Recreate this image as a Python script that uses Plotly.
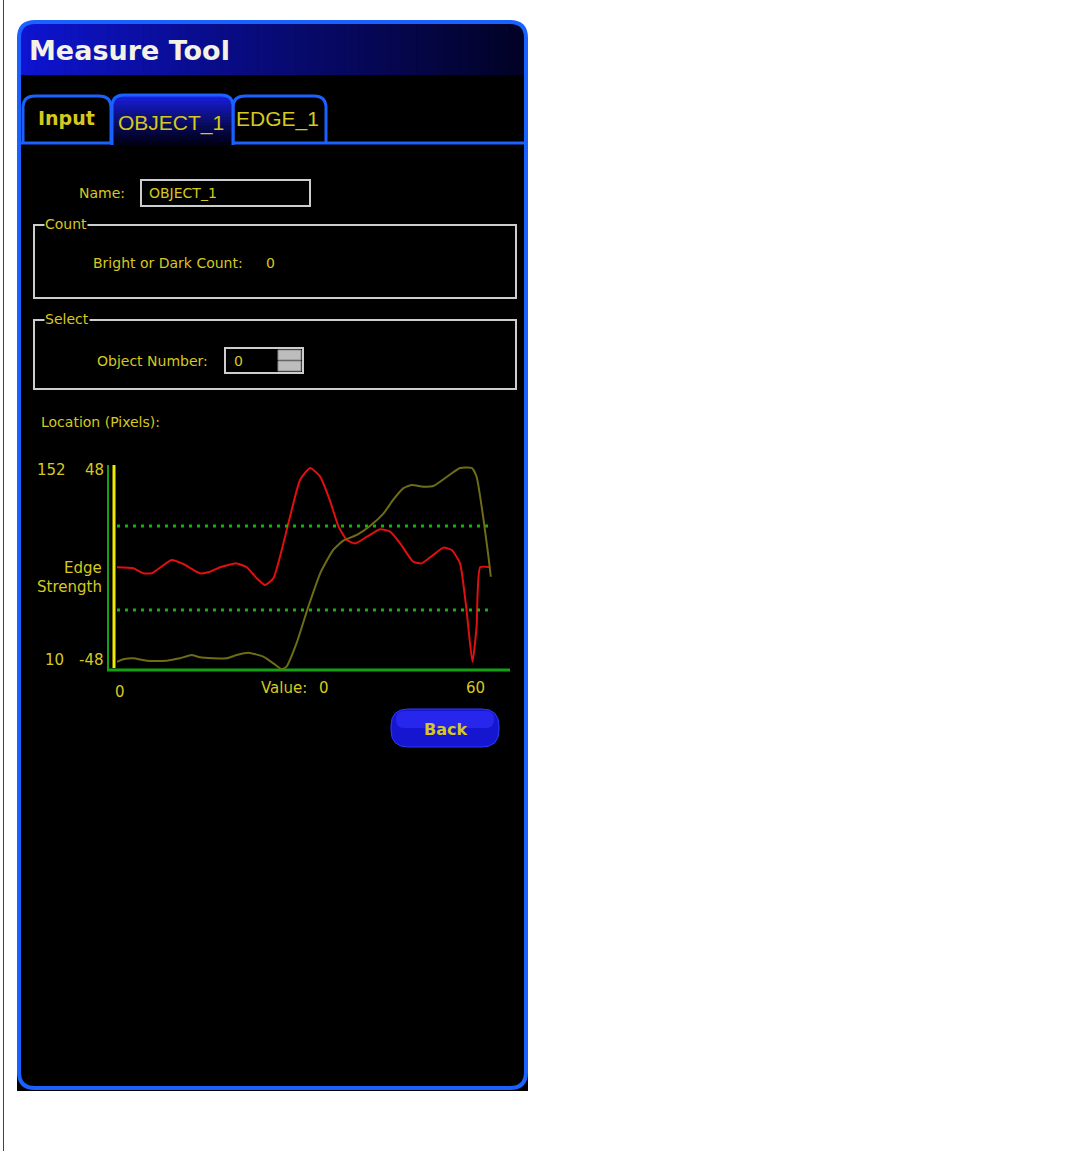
import plotly.graph_objects as go

# ---------------- data ----------------
positions = [0, 2.75, 4.44, 5.86, 9.23, 11.19, 14.0, 15.7, 17.4, 20.2, 21.9, 23.6, 25.0, 26.4,
             27.8, 29.2, 30.9, 32.6, 34.3, 35.9, 37.4, 38.8, 40.2, 42.2, 44.4, 46.1, 47.8, 50.0,
             51.4, 53.4, 55.1, 56.5, 57.9, 59.0, 60.0, 60.7, 61.3, 63.0]
edge_strength = [-1.1, -1.6, -4.1, -4.1, 2.5, 0.5, -4.1, -3.3, -1.1, 0.8, -1.1, -6.6, -9.9, -6.6,
                 7.4, 23.9, 42.1, 48.0, 43.7, 32.2, 19.0, 12.4, 10.7, 14.0, 17.7, 16.5, 10.7, 1.6,
                 0.8, 5.0, 8.6, 7.4, 0.8, -22.3, -48.0, -30.5, -1.1, -1.1]

profile_x = [0, 1.06, 2.75, 5.0, 8.4, 10.6, 12.6, 14.0, 18.5, 20.2, 22.2, 24.7, 26.4, 27.8, 28.6,
             30.3, 32.3, 34.3, 36.5, 38.2, 40.5, 42.7, 45.0, 46.6, 48.3, 49.7, 51.7, 53.4, 55.7,
             57.9, 59.9, 60.7, 61.8, 62.7, 63.1]
profile_y = [10.2, 12.0, 12.7, 11.0, 11.0, 12.7, 15.1, 13.4, 12.7, 15.1, 16.8, 13.9, 9.0, 4.7, 6.6,
             23.7, 50.5, 74.9, 92.0, 98.8, 103.0, 109.5, 118.8, 128.6, 137.1, 139.6, 138.3, 138.8,
             145.6, 152.0, 152.0, 145.6, 116.4, 87.1, 72.4]

threshold_x = [0, 63]
upper_threshold = 19.3
lower_threshold = -22.3

edge_ticks = ["48", "-48"]
profile_ticks = ["152", "10"]
x_ticks = ["0", "60"]
value_text = "0"

# ---------------- geometry helpers ----------------
W, H = 1083, 1151
YEL = "#d6c81e"
BLUE = "#1a62ff"
GRAY = "#cdcdcd"


def fx(x):
    return x / W


def fy(y):
    return 1 - y / H


def P(x, y):
    return f"{x / W:.5f},{1 - y / H:.5f}"


def rounded(x0, y0, x1, y1, r):
    return (f"M {P(x0 + r, y0)} L {P(x1 - r, y0)} Q {P(x1, y0)} {P(x1, y0 + r)} "
            f"L {P(x1, y1 - r)} Q {P(x1, y1)} {P(x1 - r, y1)} L {P(x0 + r, y1)} "
            f"Q {P(x0, y1)} {P(x0, y1 - r)} L {P(x0, y0 + r)} Q {P(x0, y0)} {P(x0 + r, y0)} Z")


def tab_path(x0, y0, x1, y1, r):
    return (f"M {P(x0, y1)} L {P(x0, y0 + r)} Q {P(x0, y0)} {P(x0 + r, y0)} "
            f"L {P(x1 - r, y0)} Q {P(x1, y0)} {P(x1, y0 + r)} L {P(x1, y1)}")


shapes = []


def rect(x0, y0, x1, y1, fill=None, line=None, lw=0):
    shapes.append(dict(type="rect", xref="paper", yref="paper", layer="below",
                       x0=fx(x0), x1=fx(x1), y0=fy(y1), y1=fy(y0),
                       fillcolor=fill if fill else "rgba(0,0,0,0)",
                       line=dict(color=line if line else "rgba(0,0,0,0)", width=lw)))


def path(p, fill=None, line=None, lw=0):
    shapes.append(dict(type="path", xref="paper", yref="paper", layer="below", path=p,
                       fillcolor=fill if fill else "rgba(0,0,0,0)",
                       line=dict(color=line if line else "rgba(0,0,0,0)", width=lw)))


def seg(x0, y0, x1, y1, color, lw, dash=None):
    d = dict(color=color, width=lw)
    if dash:
        d["dash"] = dash
    shapes.append(dict(type="line", xref="paper", yref="paper", layer="below",
                       x0=fx(x0), x1=fx(x1), y0=fy(y0), y1=fy(y1), line=d))


def corner_mask(cx, cy, dx, dy, r, color):
    path(f"M {P(cx, cy)} L {P(cx + dx * r, cy)} Q {P(cx, cy)} {P(cx, cy + dy * r)} Z", fill=color)


def lerp(c0, c1, t):
    return "rgb(%d,%d,%d)" % tuple(round(a + (b - a) * t) for a, b in zip(c0, c1))


# thin page line on the left
seg(3.5, 0, 3.5, H, "#444444", 1)

# panel
PX0, PY0, PX1, PY1, PR = 19, 22, 526, 1088, 16
rect(17, 1068, 528, 1091, fill="#000000")
path(rounded(PX0, PY0, PX1, PY1, PR), fill="#000000")

# title gradient
N = 70
tx0, tx1, ty0, ty1 = 21, 524, 24, 75
for i in range(N):
    t = i / (N - 1)
    c = lerp((14, 20, 210), (2, 2, 38), t ** 0.9)
    a = tx0 + (tx1 - tx0) * i / N
    b = tx0 + (tx1 - tx0) * (i + 1) / N + 0.6
    rect(a, ty0, b, ty1, fill=c)
corner_mask(PX0, PY0, 1, 1, PR, "#ffffff")
corner_mask(PX1, PY0, -1, 1, PR, "#ffffff")
path(rounded(PX0, PY0, PX1, PY1, PR), line=BLUE, lw=4)

# tabs
path(tab_path(23, 96, 111, 143, 12), fill="#000000", line=BLUE, lw=3)
path(tab_path(233, 96, 326, 143, 12), fill="#000000", line=BLUE, lw=3)
NT = 16
for i in range(NT):
    t = i / (NT - 1)
    c = lerp((26, 32, 232), (0, 0, 24), t ** 0.8)
    a = 95 + (145 - 95) * i / NT
    b = 95 + (145 - 95) * (i + 1) / NT + 0.6
    rect(113, a, 232, b, fill=c)
corner_mask(112, 95, 1, 1, 12, "#000000")
corner_mask(233, 95, -1, 1, 12, "#000000")
path(tab_path(112, 95, 233, 145, 12), line=BLUE, lw=3)
seg(21, 143, 112, 143, BLUE, 3)
seg(233, 143, 524, 143, BLUE, 3)

# name field
rect(141, 180, 310, 206, fill="#000000", line=GRAY, lw=2)
# group boxes
rect(34, 225, 516, 298, line=GRAY, lw=2)
rect(34, 320, 516, 389, line=GRAY, lw=2)
# spin box
rect(225, 348, 303, 373, fill="#000000", line=GRAY, lw=2)
rect(278, 350, 301, 360, fill="#bdbdbd", line="#8a8a8a", lw=1)
rect(278, 361, 301, 371, fill="#bdbdbd", line="#8a8a8a", lw=1)

# chart frame (green axes + yellow cursor)
seg(108, 465, 108, 671, "#14a014", 2)
seg(107, 670, 510, 670, "#14a014", 3)
seg(114, 465, 114, 668, "#f0ec00", 3)

# back button
path(rounded(391, 709, 499, 747, 17), fill="#1616d0", line="#2a3cff", lw=1)
path(rounded(396, 711, 494, 728, 8), fill="#2626ec")

# ---------------- annotations ----------------
annotations = []


def txt(s, x, y, size=14, color=YEL, anchor="left", bold=False, family="DejaVu Sans", bg=None):
    a = dict(text=f"<b>{s}</b>" if bold else s, x=fx(x), y=fy(y), xref="paper", yref="paper",
             xanchor=anchor, yanchor="middle", showarrow=False,
             font=dict(size=size, color=color, family=family))
    if bg:
        a["bgcolor"] = bg
        a["borderpad"] = 0
    annotations.append(a)


txt("Measure Tool", 27, 50, size=27, color="#f4f2e4", bold=True)
txt("Input", 36, 118, size=19, bold=True)
txt("OBJECT_1", 116, 123, size=21, family="Liberation Sans")
txt("EDGE_1", 234, 119, size=21, family="Liberation Sans")
txt("Name:", 127, 193, anchor="right")
txt("OBJECT_1", 147, 193, size=14)
txt("Count", 44, 224, bg="#000000")
txt("Bright or Dark Count:", 91, 263)
txt("0", 270, 263, anchor="center")
txt("Select", 44, 319, bg="#000000")
txt("Object Number:", 95, 361)
txt("0", 232, 361)
txt("Location (Pixels):", 39, 422)
txt(profile_ticks[0], 35, 470, size=15)
txt(edge_ticks[0], 106, 470, size=15, anchor="right")
txt("Edge", 104, 568, size=15, anchor="right")
txt("Strength", 104, 587, size=15, anchor="right")
txt(profile_ticks[1], 43, 660, size=15)
txt(edge_ticks[1], 106, 660, size=15, anchor="right")
txt(x_ticks[0], 120, 692, size=15, anchor="center")
txt("Value:", 259, 688, size=15)
txt(value_text, 324, 688, size=15, anchor="center")
txt(x_ticks[1], 475, 688, size=15, anchor="center")
txt("Back", 445, 729, size=16, bold=True, anchor="center")

# ---------------- traces ----------------
fig = go.Figure()
fig.add_trace(go.Scatter(x=profile_x, y=profile_y, yaxis="y2", mode="lines",
                         line=dict(color="#6f6c16", width=2, shape="spline", smoothing=0.5),
                         hoverinfo="skip"))
fig.add_trace(go.Scatter(x=positions, y=edge_strength, mode="lines",
                         line=dict(color="#e01010", width=2, shape="spline", smoothing=0.5),
                         hoverinfo="skip"))
for th in (upper_threshold, lower_threshold):
    fig.add_trace(go.Scatter(x=threshold_x, y=[th, th], mode="lines",
                             line=dict(color="#16b016", width=3, dash="3px,5px"),
                             hoverinfo="skip"))

# plot area: x 117..508 px, y 465..670 px
ax_common = dict(showgrid=False, zeroline=False, showticklabels=False, showline=False,
                 ticks="", fixedrange=True)
e_per_px = 96 / (662 - 468)
p_per_px = 142 / (662 - 468)
fig.update_layout(
    width=W, height=H, margin=dict(l=0, r=0, t=0, b=0),
    paper_bgcolor="#ffffff", plot_bgcolor="rgba(0,0,0,0)",
    showlegend=False,
    xaxis=dict(domain=[fx(117), fx(508)], range=[0, 66], **ax_common),
    yaxis=dict(domain=[fy(670), fy(465)],
               range=[-48 - (670 - 662) * e_per_px, 48 + (468 - 465) * e_per_px], **ax_common),
    yaxis2=dict(overlaying="y", range=[10 - (670 - 662) * p_per_px, 152 + (468 - 465) * p_per_px],
                **ax_common),
    shapes=shapes, annotations=annotations,
)

fig.write_html("out.html", config={"displayModeBar": False, "staticPlot": True},
               post_script="document.body.style.margin='0px';")
